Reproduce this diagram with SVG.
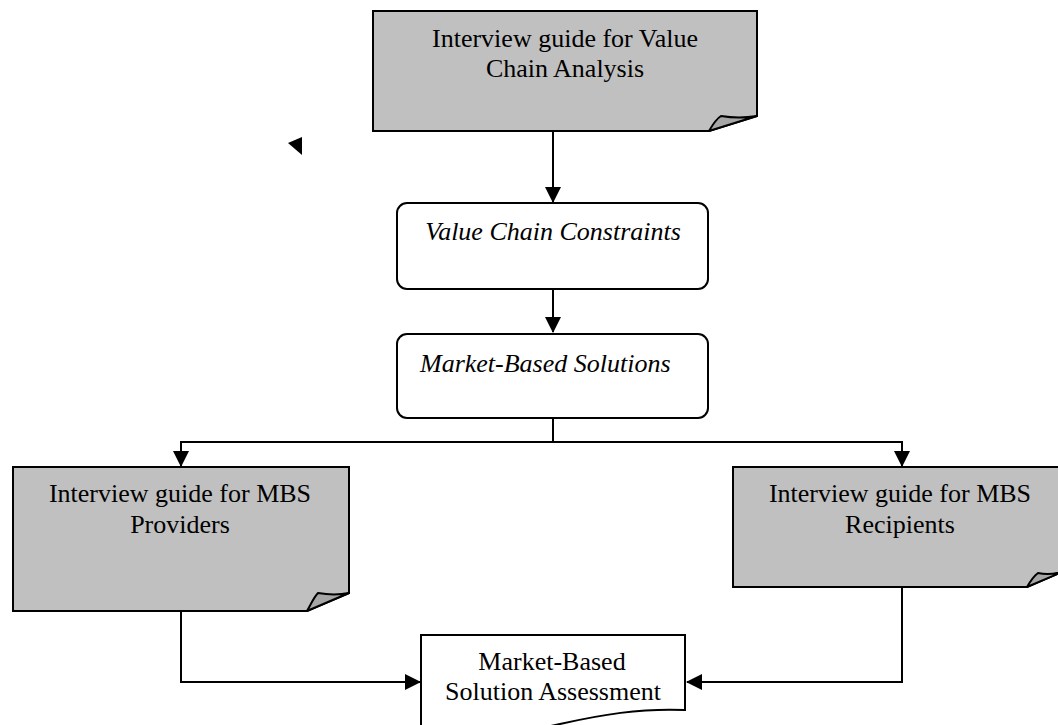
<svg xmlns="http://www.w3.org/2000/svg" width="1058" height="725" viewBox="0 0 1058 725">
<defs>
<style>
.doc{fill:#c0c0c0;stroke:#000;stroke-width:2;stroke-linejoin:miter}
.flap{fill:#a6a6a6;stroke:#000;stroke-width:2;stroke-linejoin:round}
.box{fill:#fff;stroke:#000;stroke-width:2}
.t{font-family:"Liberation Serif","Times New Roman",serif;font-size:26px;fill:#000}
.c{text-anchor:middle}
.i{font-style:italic}
.ln{fill:none;stroke:#000;stroke-width:2}
</style>
<marker id="ah" markerUnits="userSpaceOnUse" markerWidth="16" markerHeight="16" viewBox="0 0 16 16" refX="15" refY="8" orient="auto">
<path d="M0,0 L16,8 L0,16 Z" fill="#000"/>
</marker>
</defs>
<rect width="1058" height="725" fill="#fff"/>

<g id="connectors">
<path class="ln" d="M553,131 V202" marker-end="url(#ah)"/>
<path class="ln" d="M553,289 V332" marker-end="url(#ah)"/>
<path class="ln" d="M553,418 V442"/>
<path class="ln" d="M553,442 H181 V466" marker-end="url(#ah)"/>
<path class="ln" d="M553,442 H902 V466" marker-end="url(#ah)"/>
<path class="ln" d="M181,611 V682 H420" marker-end="url(#ah)"/>
<path class="ln" d="M902,587 V682 H687" marker-end="url(#ah)"/>
</g>

<g id="stray-arrowhead">
<path d="M288,143 L302,137 L302,155 Z" fill="#000"/>
</g>

<g id="node-vca">
<path class="doc" d="M373,11 H757 V116 L709,131 H373 Z"/>
<path class="flap" d="M709,131 C713,124 716,119 721,116 C733,118 745,118 757,116 Z"/>
<text class="t c" x="565" y="47">Interview guide for Value</text>
<text class="t c" x="565" y="77">Chain Analysis</text>
</g>

<g id="node-vcc">
<rect class="box" x="397" y="203" width="311" height="86" rx="10"/>
<text class="t c i" x="553" y="240">Value Chain Constraints</text>
</g>

<g id="node-mbs">
<rect class="box" x="397" y="334" width="311" height="84" rx="10"/>
<text class="t i" x="420" y="372">Market-Based Solutions</text>
</g>

<g id="node-providers">
<path class="doc" d="M13,467 H349 V593 L307,611 H13 Z"/>
<path class="flap" d="M307,611 C311,604 314,597 318,593 C329,595 339,595 349,593 Z"/>
<text class="t c" x="180" y="502">Interview guide for MBS</text>
<text class="t c" x="180" y="533">Providers</text>
</g>

<g id="node-recipients">
<path class="doc" d="M733,467 H1069 V569 L1027,587 H733 Z"/>
<path class="flap" d="M1027,587 C1031,580 1034,576 1038,573 C1048,575 1058,574 1069,569 Z"/>
<text class="t c" x="900" y="502">Interview guide for MBS</text>
<text class="t c" x="900" y="533">Recipients</text>
</g>

<g id="node-assessment">
<path class="box" d="M421,745 V635 H685 V710 C640,708 600,715 560,724 C520,733 470,740 421,738"/>
<text class="t c" x="552" y="670">Market-Based</text>
<text class="t c" x="553" y="700">Solution Assessment</text>
</g>
</svg>
